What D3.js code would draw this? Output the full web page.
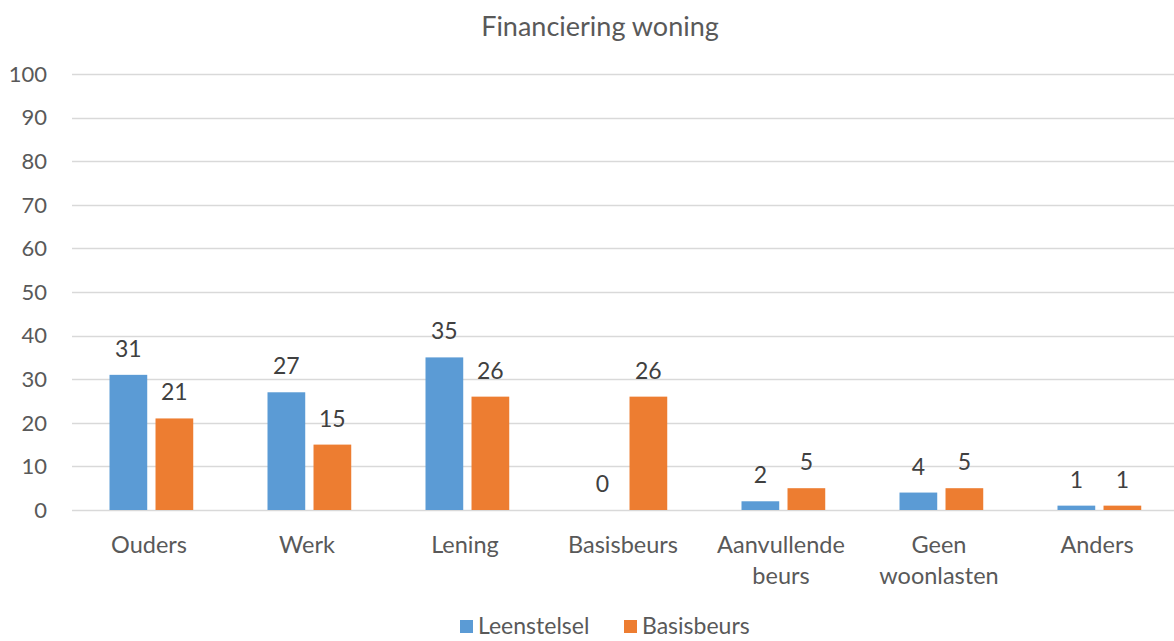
<!DOCTYPE html>
<html>
<head>
<meta charset="utf-8">
<script src="https://cdn.jsdelivr.net/npm/d3@7.9.0/dist/d3.min.js"></script>
<style>
  body { margin: 0; background: #fff; }
  text { font-family: Lato, "Open Sans", sans-serif; fill: #595959; }
</style>
</head>
<body>
<div id="chart"></div>
<script>
const categories = [["Ouders"], ["Werk"], ["Lening"], ["Basisbeurs"], ["Aanvullende", "beurs"], ["Geen", "woonlasten"], ["Anders"]];
const seriesNames = ["Leenstelsel", "Basisbeurs"];
const leenstelsel = [31, 27, 35, 0, 2, 4, 1];
const basisbeurs = [21, 15, 26, 26, 5, 5, 1];
const yTicks = [0, 10, 20, 30, 40, 50, 60, 70, 80, 90, 100];
const colors = ["#5b9bd5", "#ed7d31"];

const width = 1174, height = 641;
const svg = d3.select("#chart").append("svg")
  .attr("width", width).attr("height", height);

const x = d3.scaleBand()
  .domain(d3.range(categories.length))
  .range([70, 1176])
  .paddingInner(0)
  .paddingOuter(0);

const y = d3.scaleLinear().domain([0, 100]).range([510, 74]);

const inner = d3.scaleBand()
  .domain([0, 1])
  .range([x.bandwidth() * 0.25, x.bandwidth() * 0.78])
  .paddingInner(0.18);

// title
svg.append("text")
  .attr("x", 600).attr("y", 36)
  .attr("text-anchor", "middle")
  .style("font-size", "27px")
  .text("Financiering woning");

// gridlines
svg.append("g")
  .selectAll("line")
  .data(yTicks)
  .join("line")
  .attr("x1", 72).attr("x2", 1174)
  .attr("y1", d => Math.round(y(d)) + 0.5)
  .attr("y2", d => Math.round(y(d)) + 0.5)
  .attr("stroke", "#d9d9d9")
  .attr("stroke-width", 1.5);

// y labels
svg.append("g")
  .selectAll("text")
  .data(yTicks)
  .join("text")
  .attr("x", 47)
  .attr("y", d => y(d))
  .attr("dy", "0.35em")
  .attr("text-anchor", "end")
  .style("font-size", "22px")
  .text(d => d);

const series = [leenstelsel, basisbeurs];

series.forEach((vals, s) => {
  const g = svg.append("g");
  g.selectAll("rect")
    .data(vals)
    .join("rect")
    .attr("x", (d, i) => x(i) + inner(s))
    .attr("width", inner.bandwidth())
    .attr("y", d => y(d))
    .attr("height", d => y(0) - y(d))
    .attr("fill", colors[s]);

  g.selectAll("text")
    .data(vals)
    .join("text")
    .attr("x", (d, i) => x(i) + inner(s) + inner.bandwidth() / 2)
    .attr("y", d => y(d) - 18)
    .attr("text-anchor", "middle")
    .style("font-size", "23px")
    .style("fill", "#404040")
    .text(d => d);
});

// category labels
const cat = svg.append("g")
  .selectAll("text")
  .data(categories)
  .join("text")
  .attr("x", (d, i) => x(i) + x.bandwidth() / 2)
  .attr("y", 553)
  .attr("text-anchor", "middle")
  .style("font-size", "23.5px");
cat.selectAll("tspan")
  .data(d => d)
  .join("tspan")
  .attr("x", function () { return d3.select(this.parentNode).attr("x"); })
  .attr("dy", (d, i) => i === 0 ? 0 : 31)
  .text(d => d);

// legend
const legend = svg.append("g");
const legX = [460, 624];
seriesNames.forEach((name, i) => {
  legend.append("rect")
    .attr("x", legX[i]).attr("y", 620)
    .attr("width", 13).attr("height", 13)
    .attr("fill", colors[i]);
  legend.append("text")
    .attr("x", legX[i] + 18).attr("y", 634)
    .style("font-size", "23px")
    .text(name);
});
</script>
</body>
</html>
